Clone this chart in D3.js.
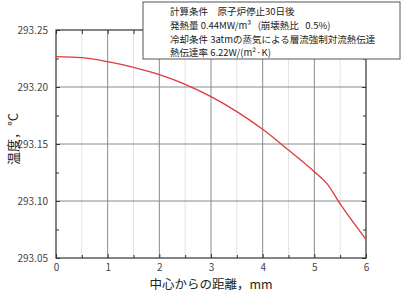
<!DOCTYPE html>
<html><head><meta charset="utf-8">
<script src="https://cdn.jsdelivr.net/npm/d3@7"></script>
<style>body{margin:0;background:#fff;}text{font-family:"Noto Sans CJK JP","Noto Sans",sans-serif;}</style>
</head><body><svg id="c" width="405" height="292"></svg>
<script>
const distance = [0, 0.5, 1, 1.5, 2, 2.5, 3, 3.5, 4, 4.5, 5, 5.25, 5.5, 6];
const temperature = [293.2266, 293.2257, 293.2222, 293.2172, 293.2108, 293.2023, 293.1915, 293.1784, 293.1629, 293.1447, 293.1257, 293.115, 293.0974, 293.0664];
const xTicks = [0, 1, 2, 3, 4, 5, 6];
const yTicks = [293.05, 293.10, 293.15, 293.20, 293.25];
const xMinor = [0.5, 1.5, 2.5, 3.5, 4.5, 5.5];
const yMinor = [293.075, 293.125, 293.175, 293.225];
const noteLines = ["計算条件　原子炉停止30日後", "発熱量 0.44MW/m³   (崩壊熱比   0.5%)", "冷却条件 3atmの蒸気による層流強制対流熱伝達", "熱伝達率 6.22W/(m²·K)"];

(function () {
const svg = d3.select("#c");
const L = 56, R = 366, T = 30, B = 258;
const x = d3.scaleLinear().domain([0, 6]).range([L, R]);
const y = d3.scaleLinear().domain([293.05, 293.25]).range([B, T]);

svg.append("g").selectAll("line").data(xMinor).join("line")
  .attr("x1", d => x(d)).attr("x2", d => x(d)).attr("y1", T).attr("y2", B)
  .attr("stroke", "#e2e2e2").attr("stroke-width", 1);
svg.append("g").selectAll("line").data(xTicks.slice(1, -1)).join("line")
  .attr("x1", d => x(d)).attr("x2", d => x(d)).attr("y1", T).attr("y2", B)
  .attr("stroke", "#8a8a8a").attr("stroke-width", 1);
svg.append("g").selectAll("line").data(yTicks.slice(1, -1)).join("line")
  .attr("y1", d => y(d)).attr("y2", d => y(d)).attr("x1", L).attr("x2", R)
  .attr("stroke", "#8a8a8a").attr("stroke-width", 1);

const ax = (sel, axis) => { sel.call(axis); sel.select(".domain").remove(); sel.selectAll("line").attr("stroke", "#333"); };
const gBottom = svg.append("g").attr("transform", `translate(0,${B})`);
ax(gBottom, d3.axisBottom(x).tickValues(xTicks).tickSizeInner(-4).tickSizeOuter(0).tickPadding(6).tickFormat(d3.format("d")));
const gBottomMinor = svg.append("g").attr("transform", `translate(0,${B})`);
ax(gBottomMinor, d3.axisBottom(x).tickValues(xMinor).tickSizeInner(-3).tickSizeOuter(0).tickFormat(""));
const gTop = svg.append("g").attr("transform", `translate(0,${T})`);
ax(gTop, d3.axisTop(x).tickValues(xTicks.concat(xMinor)).tickSizeInner(-4).tickSizeOuter(0).tickFormat(""));
const gLeft = svg.append("g").attr("transform", `translate(${L},0)`);
ax(gLeft, d3.axisLeft(y).tickValues(yTicks).tickSizeInner(-4).tickSizeOuter(0).tickPadding(8).tickFormat(d3.format(".2f")));
const gLeftMinor = svg.append("g").attr("transform", `translate(${L},0)`);
ax(gLeftMinor, d3.axisLeft(y).tickValues(yMinor).tickSizeInner(-3).tickSizeOuter(0).tickFormat(""));
const gRight = svg.append("g").attr("transform", `translate(${R},0)`);
ax(gRight, d3.axisRight(y).tickValues(yTicks).tickSizeInner(-4).tickSizeOuter(0).tickFormat(""));
const gRightMinor = svg.append("g").attr("transform", `translate(${R},0)`);
ax(gRightMinor, d3.axisRight(y).tickValues(yMinor).tickSizeInner(-3).tickSizeOuter(0).tickFormat(""));
svg.selectAll(".tick text").attr("font-size", 10).attr("fill", "#444")
  .attr("font-family", "'Liberation Sans',Arial,sans-serif");

svg.append("rect").attr("x", L).attr("y", T).attr("width", R - L).attr("height", B - T)
  .attr("fill", "none").attr("stroke", "#333").attr("stroke-width", 1.2);

svg.append("path").datum(distance.map((d, i) => [d, temperature[i]]))
  .attr("d", d3.line().x(d => x(d[0])).y(d => y(d[1])).curve(d3.curveMonotoneX))
  .attr("fill", "none").attr("stroke", "#e03a3a").attr("stroke-width", 1.3);

const box = svg.append("g");
box.append("rect").attr("x", 143).attr("y", 2).attr("width", 257).attr("height", 57)
  .attr("fill", "#fff").attr("stroke", "#555").attr("stroke-width", 1);
box.selectAll("text").data(noteLines).join("text")
  .attr("x", 170).attr("y", (d, i) => 15 + i * 13.8)
  .style("white-space", "pre")
  .attr("font-size", 9.5).attr("fill", "#222").text(d => d);

svg.append("text").attr("x", 211).attr("y", 289).attr("text-anchor", "middle")
  .attr("font-size", 12.5).attr("fill", "#222").text("中心からの距離，mm");
svg.append("text").attr("transform", "translate(18,139) rotate(-90)").attr("text-anchor", "middle")
  .attr("font-size", 13).attr("fill", "#222").text("温度，°C");
})();
</script></body></html>
